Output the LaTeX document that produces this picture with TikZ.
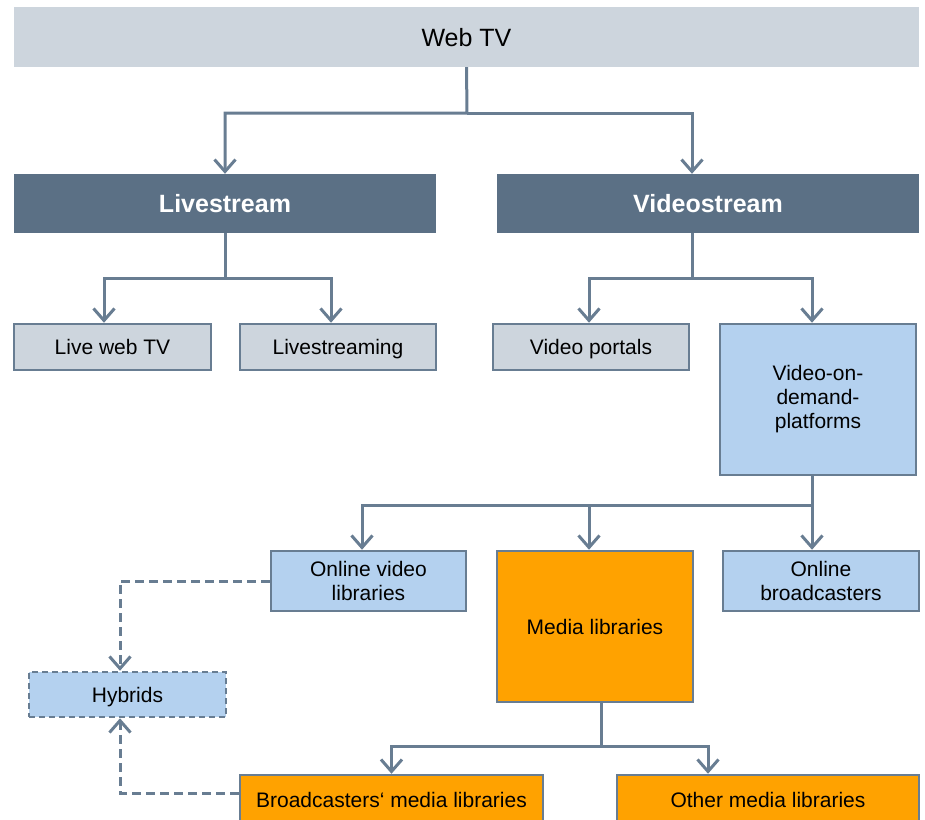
\documentclass[tikz,border=0pt]{standalone}
\usepackage{fontspec}
\setmainfont{Liberation Sans}
\usetikzlibrary{arrows.meta}
\definecolor{slate}{HTML}{5B7085}
\definecolor{edge}{HTML}{687D92}
\definecolor{greyfill}{HTML}{CDD5DD}
\definecolor{bluefill}{HTML}{B4D1EF}
\definecolor{orangefill}{HTML}{FFA200}
\begin{document}
\begin{tikzpicture}[x=1pt,y=-1pt,
  base/.style={inner sep=0pt, align=center, font=\fontsize{21}{24}\selectfont},
  oneline/.style={text height=15pt, text depth=0pt},
  topbox/.style={base, oneline, fill=greyfill, minimum width=905pt, minimum height=60pt, font=\fontsize{25}{30}\selectfont, text height=18pt},
  headbox/.style={base, oneline, fill=slate, text=white, minimum width=422pt, minimum height=59pt, font=\fontsize{25}{30}\selectfont\bfseries, text height=18pt},
  greybox/.style={base, oneline, fill=greyfill, draw=edge, line width=2.5pt, minimum width=196pt, minimum height=46pt},
  bluebox/.style={base, fill=bluefill, draw=edge, line width=2.5pt, minimum width=196pt, minimum height=60pt},
  orangebox/.style={base, oneline, fill=orangefill, draw=edge, line width=2.5pt, minimum width=196pt, minimum height=50pt},
  trunk/.style={draw=edge, line width=3pt},
  link/.style={trunk, -{Straight Barb[length=12pt,width=21pt]}},
  dlink/.style={link, dash pattern=on 9pt off 5pt}]
\clip (0,0) rectangle (925,819);
% boxes
\node[topbox] (web) at (466.5,37) {Web TV};
\node[headbox] (live) at (225,203.5) {Livestream};
\node[headbox] (video) at (708,203.5) {Videostream};
\node[greybox, minimum width=197pt] (liveweb) at (112.5,347) {Live web TV};
\node[greybox] (livestr) at (338,347) {Livestreaming};
\node[greybox] (portals) at (591,347) {Video portals};
\node[bluebox, minimum height=151pt] (vod) at (818,399.5) {Video-on-\\demand-\\platforms};
\node[bluebox, minimum width=195pt] (onvid) at (368.5,581) {Online video\\libraries};
\node[orangebox, minimum height=151pt] (media) at (595,626.5) {Media libraries};
\node[bluebox] (onbro) at (821,581) {Online\\broadcasters};
\node[bluebox, oneline, minimum width=197pt, minimum height=45pt, dash pattern=on 6pt off 4pt] (hybrids) at (127.5,694.5) {Hybrids};
\node[orangebox, minimum width=303pt] (bcast) at (391.5,800) {Broadcasters‘ media libraries};
\node[orangebox, minimum width=302pt] (other) at (768,800) {Other media libraries};
% junctions
\coordinate (j1) at (467,113);
\coordinate (j2) at (225,278);
\coordinate (j3) at (692,278);
\coordinate (j4) at (812,505);
\coordinate (j5) at (601,746);
% connectors
\draw[link] (web.south) -- (j1) -| (live.north);
\draw[link] (j1) -| ([xshift=-16pt]video.north);
\draw[trunk] (live.south) -- (j2);
\draw[link] (j2) -| ([xshift=-8.5pt]liveweb.north);
\draw[link] (j2) -| ([xshift=-7pt]livestr.north);
\draw[trunk] ([xshift=-16pt]video.south) -- (j3);
\draw[link] (j3) -| ([xshift=-2pt]portals.north);
\draw[link] (j3) -| ([xshift=-6pt]vod.north);
\draw[trunk] ([xshift=-6pt]vod.south) -- (j4);
\draw[link] (j4) -| ([xshift=-6.5pt]onvid.north);
\draw[link] (j4) -| ([xshift=-6pt]media.north);
\draw[link] (j4) -- ([xshift=-9pt]onbro.north);
\draw[trunk] ([xshift=6pt]media.south) -- (j5);
\draw[link] (j5) -| (bcast.north);
\draw[link] (j5) -| ([xshift=-60pt]other.north);
\draw[dlink] (onvid.west) -| ([xshift=-7.5pt]hybrids.north);
\draw[dlink] ([yshift=7pt]bcast.west) -| ([xshift=-7.5pt]hybrids.south);
\end{tikzpicture}
\end{document}
